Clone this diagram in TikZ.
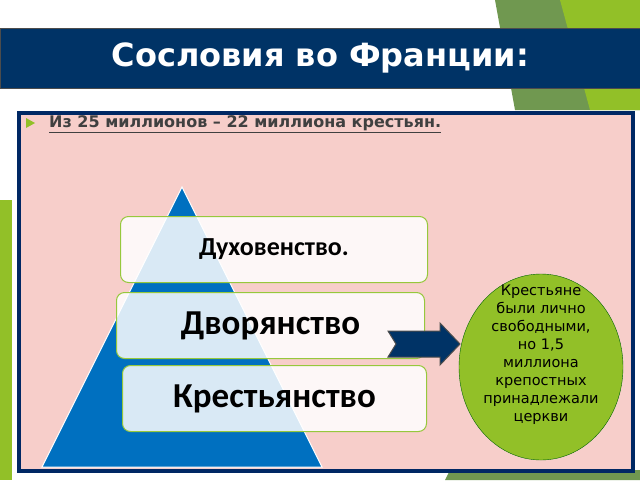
\documentclass[tikz,border=0pt]{standalone}
\usepackage{fontspec}
\usetikzlibrary{shapes.geometric}
\setmainfont{DejaVu Sans}
\newfontfamily\boxfont{Carlito}
\definecolor{navy}{RGB}{0,51,102}
\definecolor{panelborder}{RGB}{0,40,100}
\definecolor{pinkbg}{RGB}{247,206,202}
\definecolor{pyrblue}{RGB}{0,112,192}
\definecolor{limegreen}{RGB}{146,192,40}
\definecolor{darkgreen}{RGB}{112,152,80}
\definecolor{tierline}{RGB}{150,200,60}
\begin{document}
\begin{tikzpicture}[x=1pt,y=-1pt,
  tier/.style={draw=tierline, line width=1pt, rounded corners=8pt, fill=white, fill opacity=0.85, text opacity=1, anchor=north west, inner sep=0pt}]
\useasboundingbox (0,0) rectangle (640,480);
\fill[white] (0,0) rectangle (640,480);
% decorative green shapes
\fill[darkgreen] (495,0) -- (640,0) -- (640,110) -- (515,110) -- cycle;
\fill[limegreen] (560,0) -- (640,0) -- (640,110) -- (590,110) -- cycle;
\fill[darkgreen] (450,470) -- (640,470) -- (640,480) -- (445,480) -- cycle;
\fill[limegreen] (0,200) -- (12,200) -- (12,480) -- (0,480) -- cycle;
% title
\node[draw=black!70, fill=navy, minimum width=640pt, minimum height=60pt, anchor=north west, inner sep=0pt,
  text=white, font=\bfseries\fontsize{32}{34}\selectfont] (title) at (0,28) {Сословия во Франции:};
% main panel
\node[draw=panelborder, line width=4pt, fill=pinkbg, minimum width=614pt, minimum height=358pt, anchor=north west, inner sep=0pt] (panel) at (17,111) {};
\fill[limegreen] (26,118) -- (35,123) -- (26,128) -- cycle;
\node[anchor=west, font=\bfseries\fontsize{16}{18}\selectfont, text=black!75, inner sep=0pt] (bullet) at (49,124) {\underline{Из 25 миллионов – 22 миллиона крестьян.}};
% pyramid
\fill[pyrblue] (182,187) -- (322,467) -- (42,467) -- cycle;
\draw[white, line width=1pt] (182,187) -- (322,467) -- (42,467) -- cycle;
% tiers
\node[tier, minimum width=307pt, minimum height=66pt, font=\boxfont\bfseries\fontsize{26}{28}\selectfont] (t1) at (120,216) {Духовенство.};
\node[tier, minimum width=308pt, minimum height=66pt, font=\boxfont\bfseries\fontsize{35}{36}\selectfont] (t2) at (116,292) {Дворянство};
\node[tier, minimum width=304pt, minimum height=66pt, font=\boxfont\bfseries\fontsize{35}{36}\selectfont] (t3) at (122,365) {Крестьянство};
% ellipse
\node[draw=green!40!black, fill=limegreen, ellipse, minimum width=164pt, minimum height=186pt, inner sep=0pt] (ell) at (541,367) {};
\node[align=center, inner sep=0pt, font=\fontsize{14.5}{18}\selectfont] (elltext) at ([yshift=12pt]ell.center) {Крестьяне\\были лично\\свободными,\\но 1,5\\миллиона\\крепостных\\принадлежали\\церкви};
% arrow
\draw[black!70, fill=navy, line width=1pt]
  (388,331) -- (440,331) -- (440,323) -- (460,344) -- (440,365) -- (440,357) -- (388,357) -- (396,344) -- cycle;
\end{tikzpicture}
\end{document}
